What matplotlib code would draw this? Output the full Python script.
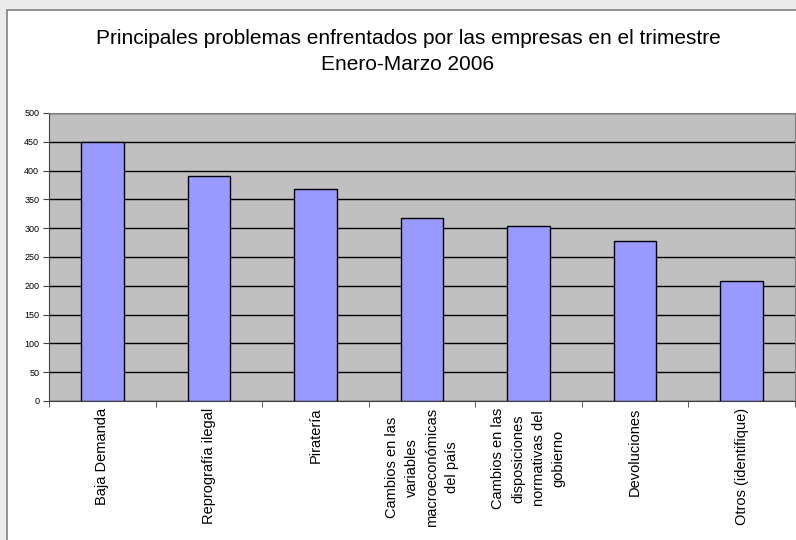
import matplotlib.pyplot as plt
import matplotlib.patches as mpatches
import numpy as np

plt.rcParams['font.family'] = ['Liberation Sans', 'DejaVu Sans']

categorias = ['Baja Demanda',
              'Reprografía ilegal',
              'Piratería',
              'Cambios en las\nvariables\nmacroeconómicas\ndel país',
              'Cambios en las\ndisposiciones\nnormativas del\ngobierno',
              'Devoluciones',
              'Otros (identifique)']
valores = [450, 390, 368, 317, 304, 277, 208]
yticks = [0, 50, 100, 150, 200, 250, 300, 350, 400, 450, 500]

fig = plt.figure(figsize=(7.96, 5.4), dpi=100)
fig.patch.set_facecolor('#ececec')
# white chart frame, runs off the right and bottom edges
fig.patches.append(mpatches.Rectangle((7 / 796, -0.05), 1.0, 1 - 10 / 540 + 0.05,
                                      transform=fig.transFigure, facecolor='white',
                                      edgecolor='#808080', linewidth=1.2, zorder=-1))

ax = fig.add_axes([49 / 796, 139 / 540, 746 / 796, 288 / 540])
ax.set_zorder(1)
ax.set_facecolor('#c0c0c0')
x = np.arange(len(valores))
ax.bar(x, valores, width=0.4, color='#9999ff', edgecolor='black', linewidth=1, zorder=3)

ax.set_xlim(-0.5, len(valores) - 0.5)
ax.set_ylim(0, 500)
ax.set_yticks(yticks)
ax.set_yticklabels([str(v) for v in yticks], fontsize=6.5)
ax.yaxis.grid(True, color='black', linewidth=1, zorder=1)
ax.set_axisbelow(True)

ax.set_xticks(x)
ax.set_xticklabels(categorias, rotation=90, fontsize=10.5, va='top', ha='center',
                   multialignment='center', linespacing=1.55)
ax.tick_params(axis='x', which='major', length=0, pad=5)
ax.set_xticks(np.arange(-0.5, len(valores), 1), minor=True)
ax.tick_params(axis='x', which='minor', length=4, color='#404040')
ax.tick_params(axis='y', length=4, color='#404040', pad=3)

for s in ['top', 'right']:
    ax.spines[s].set_color('#808080')
for s in ['left', 'bottom']:
    ax.spines[s].set_color('#404040')

fig.text(408 / 796, 1 - 38 / 540, 'Principales problemas enfrentados por las empresas en el trimestre',
         ha='center', va='center', fontsize=15)
fig.text(408 / 796, 1 - 64 / 540, 'Enero-Marzo 2006', ha='center', va='center', fontsize=15)

fig.savefig('out.png', dpi=100, facecolor=fig.get_facecolor())
